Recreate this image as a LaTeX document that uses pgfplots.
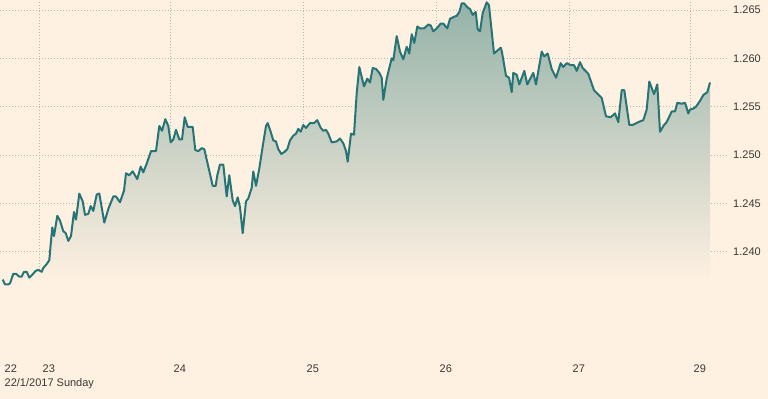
\documentclass[border=0pt]{standalone}
\usepackage{pgfplots}
\pgfplotsset{compat=1.18}
\usepackage{pgfplotstable}
\usepackage{fontspec}
\setmainfont{Liberation Sans}
\definecolor{ftbg}{RGB}{255,241,226}
\definecolor{ftline}{RGB}{38,116,118}
\definecolor{fttop}{RGB}{148,178,168}
\definecolor{ftgrid}{RGB}{192,184,174}
\definecolor{fttext}{RGB}{60,56,52}
\pgfdeclareverticalshading{ftfade}{100bp}{color(0bp)=(ftbg); color(36bp)=(ftbg); color(75bp)=(fttop); color(100bp)=(fttop)}
\pgfplotstableread{
x y
2.7 1.2371
5 1.2366
8.3 1.2366
10 1.2367
13.3 1.2377
16 1.2377
19.3 1.2374
21.7 1.2374
24 1.2379
26.7 1.2379
29.3 1.2373
32.3 1.2376
35.7 1.2380
38.3 1.2381
41.7 1.2379
43.3 1.2383
46.7 1.2387
49.3 1.2391
51 1.2411
52.3 1.2425
54 1.2416
57.3 1.2437
60 1.2432
63.3 1.2421
65.7 1.2419
68.3 1.2411
71 1.2416
74 1.2441
76 1.2433
79.3 1.2460
82.7 1.2452
85 1.2438
88.3 1.2439
90.7 1.2447
93.3 1.2442
96.7 1.2459
99.3 1.2460
104.3 1.2430
108.3 1.2444
113.3 1.2457
116 1.2457
120 1.2451
124 1.2463
126 1.2481
129.3 1.2479
132.7 1.2483
137.3 1.2475
140.7 1.2488
143.3 1.2482
146.7 1.2491
151 1.2504
156 1.2504
159.3 1.2530
162 1.2525
165.3 1.2537
168.3 1.2530
170.7 1.2513
173.3 1.2516
176 1.2526
179.3 1.2516
182 1.2516
184.7 1.2539
187.7 1.2529
192.7 1.2529
195.3 1.2505
198.3 1.2504
201.7 1.2507
204.3 1.2506
212.7 1.2468
215.7 1.2468
217.3 1.2479
220 1.2490
223.3 1.2490
226.7 1.2457
229.3 1.2479
232.7 1.2453
235 1.2447
237.7 1.2456
240 1.2446
242.7 1.2419
246 1.2452
248.3 1.2455
251.7 1.2466
253.3 1.2483
256 1.2468
259.3 1.2486
262.7 1.2509
266 1.2530
267.7 1.2533
270.7 1.2524
273.3 1.2515
276 1.2514
278.3 1.2506
281.3 1.2501
284.3 1.2503
287.3 1.2506
290 1.2515
293.3 1.2520
296 1.2522
298.3 1.2527
300.7 1.2524
303.3 1.2531
306 1.2528
310 1.2533
314 1.2533
317.3 1.2536
320.7 1.2528
323.3 1.2525
326 1.2526
328.3 1.2522
331.7 1.2513
336.7 1.2514
340 1.2517
343.3 1.2512
346 1.2504
347.7 1.2493
351 1.2522
354 1.2521
356.7 1.2564
359.3 1.2591
364 1.2571
367.3 1.2579
370 1.2575
372.7 1.2590
376 1.2589
379.3 1.2585
381.7 1.2580
383.3 1.2557
386.7 1.2579
389.3 1.2590
391.7 1.2600
393.3 1.2598
396.7 1.2623
400 1.2607
403.3 1.2599
406.7 1.2612
409.3 1.2605
411.7 1.2625
414.3 1.2616
417.3 1.2633
420 1.2631
424 1.2631
428.3 1.2635
430.7 1.2634
433.3 1.2628
436.7 1.2631
440.7 1.2636
443.3 1.2636
447.3 1.2631
450 1.2641
454 1.2643
456.7 1.2644
459.3 1.2648
461.7 1.2657
464 1.2657
467.3 1.2653
470 1.2651
472.7 1.2645
475.7 1.2648
477.7 1.2630
480 1.2628
482.7 1.2647
486.7 1.2658
489 1.2655
494 1.2605
500.7 1.2611
501.7 1.2608
506 1.2582
509 1.2580
511.7 1.2565
513.3 1.2585
516.7 1.2583
519.3 1.2573
524.3 1.2587
527.3 1.2573
533.3 1.2585
536 1.2573
541.7 1.2607
544.3 1.2602
547.7 1.2605
551.7 1.2589
556 1.2580
560.7 1.2595
563.3 1.2591
566.7 1.2595
570.7 1.2593
574 1.2593
576.7 1.2587
580 1.2596
582.7 1.2590
588.3 1.2584
594 1.2567
601.7 1.2559
606 1.2540
610.7 1.2539
615 1.2543
618.3 1.2534
621.7 1.2567
624.3 1.2567
629.3 1.2531
632.7 1.2531
638.3 1.2534
643.3 1.2536
646.7 1.2547
649.3 1.2576
654 1.2563
657.3 1.2573
660 1.2524
664 1.2531
666.7 1.2534
671.7 1.2545
675 1.2545
677.3 1.2554
681.7 1.2553
685 1.2554
688.3 1.2543
690 1.2547
693.3 1.2548
696 1.2550
700 1.2556
703.3 1.2562
707.3 1.2565
710 1.2575
}\fxdata
\begin{document}
\begin{tikzpicture}
\fill[ftbg] (0,0) rectangle (768bp,-399bp);
\begin{axis}[
  at={(0,0)}, anchor=north west,
  scale only axis, width=728bp, height=363bp,
  xmin=0, xmax=728, ymin=1.22846, ymax=1.26604,
  axis line style={draw=none},
  major tick length=0pt,
  xtick={39,170,303,436,569,690},
  xticklabels={23,24,25,26,27,29},
  extra x ticks={1},
  extra x tick labels={22},
  extra x tick style={grid=none},
  ytick={1.240,1.245,1.250,1.255,1.260,1.265},
  yticklabels={1.240,1.245,1.250,1.255,1.260,1.265},
  yticklabel pos=right,
  grid=major,
  major grid style={color=ftgrid, line width=0.8bp, dash pattern=on 1bp off 2bp},
  xticklabel style={anchor=north west, inner sep=0pt, xshift=3.5bp, yshift=-2bp, font=\fontsize{11bp}{13bp}\selectfont, text=fttext},
  yticklabel style={anchor=west, inner sep=0pt, xshift=5bp, font=\fontsize{11bp}{13bp}\selectfont, text=fttext},
]
\addplot[draw=none, shading=ftfade] table[x=x,y=y] {\fxdata} \closedcycle;
\addplot[color=ftline, line width=2bp, line join=round, mark=none] table[x=x,y=y] {\fxdata};
\end{axis}
\node[anchor=west, inner sep=0pt, text=fttext, font=\fontsize{11bp}{13bp}\selectfont] at (4.5bp,-384bp) {22/1/2017 Sunday};
\pgfresetboundingbox
\path (0,0) rectangle (768bp,-399bp);
\end{tikzpicture}
\end{document}
